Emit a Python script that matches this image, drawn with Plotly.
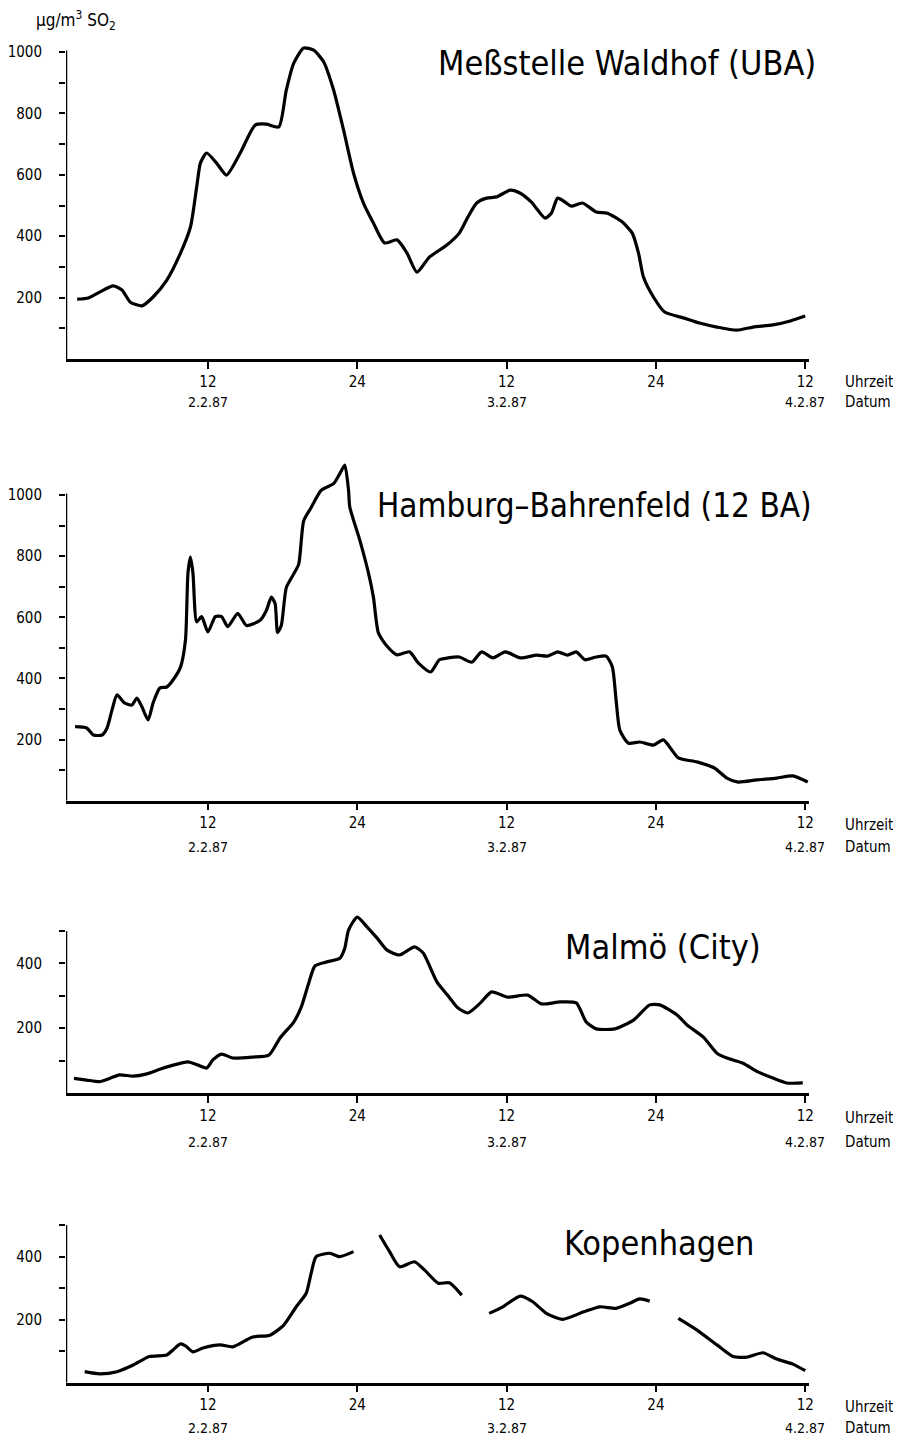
"""SO2 episode Feb 1987: four stations, stacked line charts."""

import plotly.graph_objects as go

FONT = "DejaVu Sans Condensed, DejaVu Sans, sans-serif"
# the page body keeps its default 8px margin, so the figure is drawn
# 8px in from the window edge; pixel positions below are window pixels
PAGE_MARGIN = 8
WIDTH = 901 - 2 * PAGE_MARGIN
HEIGHT = 1445 - 2 * PAGE_MARGIN


def px_x(x):
    return (x - PAGE_MARGIN) / WIDTH


def px_y(y):
    return 1 - (y - PAGE_MARGIN) / HEIGHT


# hours since 0:00 on 2.2.87, values in ug/m3 SO2
waldhof_hours = [
    1.5, 2.4, 3.3, 4.4, 5.1, 5.75, 6.7, 7.6, 8.7, 9.8, 10.6, 11.1, 11.4, 11.9,
    12.7, 13.5, 14.6, 15.8, 16.7, 17.7, 18.3, 18.9, 19.7, 20.5, 21.3, 22.1,
    22.9, 23.7, 24.5, 25.3, 26.2, 27.2, 28.0, 28.8, 29.8, 31.2, 32.2, 32.9,
    33.6, 34.4, 35.2, 36.3, 37.1, 38.0, 39.1, 39.6, 40.1, 40.7, 41.2, 42.1,
    43.2, 44.1, 45.3, 46.1, 46.6, 47.0, 47.8, 48.7, 50.2, 51.5, 52.9, 54.5,
    55.8, 57.4, 58.8, 60.0,
]
waldhof_values = [
    195, 199, 218, 238, 225, 186, 173, 202, 257, 345, 430, 560, 638, 671,
    638, 599, 671, 762, 765, 756, 876, 964, 1013, 1006, 968, 876,
    746, 606, 508, 443, 378, 388, 345, 283, 332, 371, 410, 463,
    508, 524, 528, 550, 540, 511, 459, 475, 524, 511, 498, 508,
    479, 475, 446, 410, 345, 267, 202, 153, 134, 117, 104, 94,
    104, 111, 124, 140,
]

hamburg_hours = [
    1.33, 2.26, 2.8, 3.5, 3.9, 4.3, 4.7, 5.3, 5.9, 6.3, 6.7, 7.2, 7.6, 8.15,
    8.7, 9.2, 9.8, 10.2, 10.4, 10.6, 10.8, 11.1, 11.5, 12.0, 12.6, 13.1, 13.6,
    14.4, 15.1, 16.2, 16.7, 17.1, 17.4, 17.6, 17.9, 18.3, 18.9, 19.3, 19.7,
    20.3, 21.1, 22.1, 22.6, 23.0, 23.3, 23.4, 24.2, 24.9, 25.3, 25.7, 26.4,
    27.2, 28.2, 28.9, 29.9, 30.6, 31.3, 32.2, 33.2, 34.0, 34.9, 35.9, 37.1,
    38.4, 39.3, 40.1, 40.9, 41.6, 42.3, 43.2, 44.0, 44.5, 44.8, 45.1, 45.8,
    46.7, 47.8, 48.6, 49.8, 51.3, 52.7, 53.7, 54.6, 56.1, 57.7, 59.0, 60.2,
]
hamburg_values = [
    242, 238, 215, 215, 238, 297, 346, 320, 313, 336, 307, 264, 320, 369,
    372, 395, 437, 526, 745, 797, 745, 585, 602, 552, 602, 602, 569,
    613, 573, 590, 622, 666, 645, 550, 573, 697, 742, 774, 916,
    959, 1015, 1037, 1070, 1098, 1016, 961, 853, 745, 666, 549, 505,
    477, 487, 451, 421, 461, 467, 470, 453, 487, 467, 487, 467,
    476, 473, 487, 476, 487, 461, 470, 473, 437, 329, 231, 188,
    192, 182, 199, 140, 127, 107, 74, 61, 68, 74, 81, 61,
]

malmo_hours = [
    1.24, 2.26, 3.3, 4.1, 4.9, 6.0, 7.1, 8.2, 9.2, 10.4, 11.2, 11.9, 12.4,
    13.1, 14.0, 15.6, 16.9, 17.8, 18.9, 19.5, 20.1, 20.6, 21.5, 22.6, 23.0,
    23.3, 24.0, 24.8, 25.6, 26.4, 27.4, 28.6, 29.3, 30.4, 31.3, 32.1, 32.9,
    33.9, 34.8, 36.1, 37.7, 38.8, 40.3, 41.6, 42.4, 43.2, 44.7, 46.2, 47.5,
    48.3, 49.7, 50.5, 51.8, 52.9, 53.7, 55.0, 56.2, 57.4, 58.5, 59.8,
]
malmo_values = [
    45, 40, 35, 45, 56, 52, 59, 74, 86, 96, 86, 77, 102,
    120, 108, 111, 117, 170, 219, 265, 339, 392, 404, 416, 447,
    503, 543, 512, 478, 441, 426, 451, 432, 343, 300, 262, 247,
    278, 312, 296, 302, 275, 281, 278, 219, 198, 198, 225, 272,
    272, 241, 210, 173, 123, 108, 92, 65, 46, 31, 31,
]

# None marks the breaks in the Copenhagen record
kopenhagen_hours = [
    2.1, 3.3, 4.7, 6.0, 7.3, 8.7, 9.2, 9.8, 10.2, 10.8, 11.6, 13.0, 14.0,
    15.6, 17.0, 18.1, 19.1, 19.9, 20.3, 20.7, 21.8, 22.6, 23.7, 24.8,
    25.8, 26.6, 27.4, 28.6, 29.4, 30.5, 31.4, 32.4, 33.5,
    34.6, 35.7, 37.1, 38.1, 39.2, 40.5, 42.2, 43.5, 44.8, 45.9, 46.7, 47.5,
    48.7,
    49.8, 51.3, 52.9, 54.2, 55.3, 56.6, 57.7, 59.0, 60.0,
]
kopenhagen_values = [
    35, 28, 35, 56, 83, 88, 104, 123, 117, 98, 110, 120, 114,
    145, 151, 183, 241, 284, 348, 400, 411, 400, 416, None,
    469, 416, 368, 384, 358, 316, 317, 278, None,
    220, 241, 275, 257, 220, 201, 225, 241, 236, 252, 266, 259,
    None,
    204, 167, 120, 83, 81, 95, 75, 59, 38,
]

tick_hours = [12, 24, 36, 48, 60]
tick_labels = ["12", "24", "12", "24", "12"]
date_hours = [12, 36, 60]
date_labels = ["2.2.87", "3.2.87", "4.2.87"]

# per panel: name, hours, values, y range, axis top, y ticks, pixel layout
panels = [
    dict(title="Meßstelle Waldhof (UBA)", x=waldhof_hours, y=waldhof_values,
         yrange=[0, 1040], ytop=1005, yticks=list(range(100, 1001, 100)),
         bottom=359, scale=0.307, title_x=436, title_y=63, title_size=34,
         tick_y=382, date_y=402),
    dict(title="Hamburg–Bahrenfeld (12 BA)", x=hamburg_hours, y=hamburg_values,
         yrange=[0, 1110], ytop=1005, yticks=list(range(100, 1001, 100)),
         bottom=800.7, scale=0.3057, title_x=375, title_y=506, title_size=33,
         tick_y=825, date_y=847),
    dict(title="Malmö (City)", x=malmo_hours, y=malmo_values,
         yrange=[0, 560], ytop=500, yticks=[100, 200, 300, 400, 500],
         bottom=1093, scale=0.324, title_x=563, title_y=947, title_size=34,
         tick_y=1118, date_y=1142),
    dict(title="Kopenhagen", x=kopenhagen_hours, y=kopenhagen_values,
         yrange=[0, 505], ytop=500, yticks=[100, 200, 300, 400, 500],
         bottom=1382.7, scale=0.315, title_x=562, title_y=1243, title_size=34,
         tick_y=1407, date_y=1428),
]

X_RANGE = [0.6, 60.3]
X_LEFT = 66
X_RIGHT = 809

fig = go.Figure()
annotations = []
shapes = []

for i, panel in enumerate(panels, start=1):
    suffix = "" if i == 1 else str(i)
    xref = "x" + suffix
    yref = "y" + suffix
    top_px = panel["bottom"] - panel["yrange"][1] * panel["scale"]

    fig.add_trace(
        go.Scatter(
            x=panel["x"],
            y=panel["y"],
            mode="lines",
            line=dict(color="black", width=3.2, shape="spline", smoothing=0.6),
            connectgaps=False,
            showlegend=False,
            hoverinfo="skip",
            xaxis=xref,
            yaxis=yref,
        )
    )

    fig.update_layout(
        {
            "xaxis" + suffix: dict(
                domain=[px_x(X_LEFT), px_x(X_RIGHT)],
                range=X_RANGE,
                anchor=yref,
                automargin=False,
                showline=True,
                linecolor="black",
                linewidth=2.5,
                showgrid=False,
                zeroline=False,
                ticks="outside",
                ticklen=7,
                tickwidth=2,
                tickcolor="black",
                tickvals=tick_hours,
                ticktext=tick_labels,
                tickfont=dict(family=FONT, size=15, color="black"),
                ticklabelstandoff=0,
            ),
            "yaxis" + suffix: dict(
                domain=[px_y(panel["bottom"]), px_y(top_px)],
                range=panel["yrange"],
                anchor=xref,
                automargin=False,
                showline=False,
                showgrid=False,
                zeroline=False,
                ticks="outside",
                ticklen=6,
                tickwidth=2,
                tickcolor="black",
                tickvals=panel["yticks"],
                ticktext=[str(v) if v % 200 == 0 else "" for v in panel["yticks"]],
                tickfont=dict(family=FONT, size=15, color="black"),
                ticklabelstandoff=14,
            ),
        }
    )

    # vertical axis line only up to the last tick
    shapes.append(
        dict(type="line", xref=xref, yref=yref,
             x0=X_RANGE[0], x1=X_RANGE[0], y0=0, y1=panel["ytop"],
             line=dict(color="black", width=2.5))
    )

    annotations.append(
        dict(text=panel["title"], xref="paper", yref="paper",
             x=px_x(panel["title_x"]), y=px_y(panel["title_y"]),
             xanchor="left", yanchor="middle", showarrow=False,
             font=dict(family=FONT, size=panel["title_size"], color="black"))
    )
    for hour, label in zip(date_hours, date_labels):
        annotations.append(
            dict(text=label, xref=xref, yref="paper",
                 x=hour, y=px_y(panel["date_y"]),
                 xanchor="center", yanchor="middle", showarrow=False,
                 font=dict(family=FONT, size=14, color="black"))
        )
    annotations.append(
        dict(text="Uhrzeit", xref="paper", yref="paper",
             x=px_x(843), y=px_y(panel["tick_y"]),
             xanchor="left", yanchor="middle", showarrow=False,
             font=dict(family=FONT, size=15, color="black"))
    )
    annotations.append(
        dict(text="Datum", xref="paper", yref="paper",
             x=px_x(843), y=px_y(panel["date_y"]),
             xanchor="left", yanchor="middle", showarrow=False,
             font=dict(family=FONT, size=15, color="black"))
    )

annotations.append(
    dict(text="µg/m<sup>3</sup> SO<sub>2</sub>", xref="paper", yref="paper",
         x=px_x(34), y=px_y(20), xanchor="left", yanchor="middle",
         showarrow=False, font=dict(family=FONT, size=17, color="black"))
)

fig.update_layout(
    width=WIDTH,
    height=HEIGHT,
    margin=dict(l=0, r=0, t=0, b=0),
    paper_bgcolor="white",
    plot_bgcolor="white",
    annotations=annotations,
    shapes=shapes,
)

fig.write_html("out.html")
